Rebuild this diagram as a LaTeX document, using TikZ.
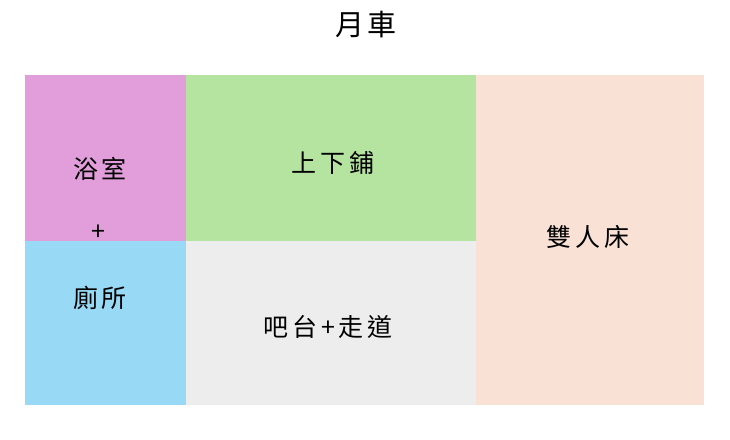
\documentclass[tikz,border=0pt]{standalone}
\usepackage{fontspec}
\setmainfont{Noto Sans CJK TC}
\newfontfamily\spacedcjk[LetterSpace=15]{Noto Sans CJK TC}
\newfontfamily\titlecjk[LetterSpace=10]{Noto Sans CJK TC}
\definecolor{cpink}{HTML}{E29EDB}
\definecolor{cgreen}{HTML}{B4E4A0}
\definecolor{cblue}{HTML}{98DAF6}
\definecolor{cgray}{HTML}{EDEDED}
\definecolor{cpeach}{HTML}{F9E1D6}
\tikzset{
  lbl/.style={font=\spacedcjk\fontsize{25}{29}\selectfont, text=black, inner sep=0pt},
  ttl/.style={font=\titlecjk\fontsize{29}{34}\selectfont, text=black, inner sep=0pt}
}
\begin{document}
\begin{tikzpicture}[x=1pt,y=-1pt]
\useasboundingbox (0,0) rectangle (730,439);
\fill[white] (0,0) rectangle (730,439);
\fill[cpink] (25,75) rectangle (186,241);
\fill[cblue] (25,241) rectangle (186,405);
\fill[cgreen] (186,75) rectangle (476,241);
\fill[cgray] (186,241) rectangle (476,405);
\fill[cpeach] (476,75) rectangle (704,405);
\node[ttl] (title) at (366,25) {月車};
\node[lbl] (bath) at (100,169) {浴室};
\node[lbl] (plus) at (98,233) {+};
\node[lbl] (wc) at (100,298) {廁所};
\node[lbl] (bunk) at (333,163) {上下鋪};
\node[lbl] (bar) at (328,327) {吧台+走道};
\node[lbl] (bed) at (588,237) {雙人床};
\end{tikzpicture}
\end{document}
